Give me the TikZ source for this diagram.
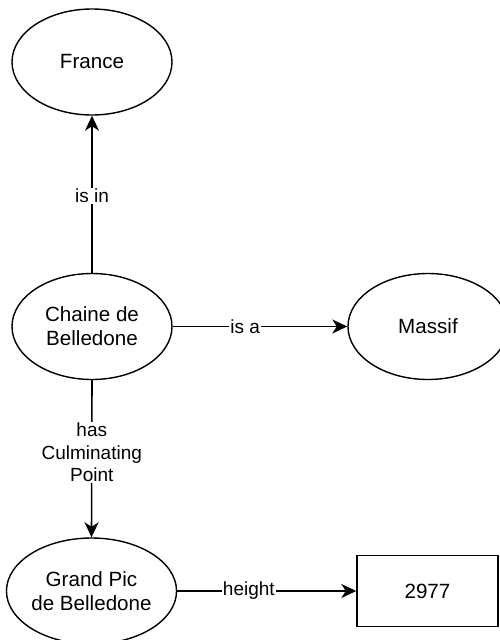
\documentclass[tikz,border=0pt]{standalone}
\usepackage{fontspec}
\setmainfont{Liberation Sans}
\usetikzlibrary{shapes.geometric,arrows.meta}
\tikzset{
  conc/.style={ellipse,draw,line width=1.4pt,minimum width=160pt,minimum height=106pt,inner sep=0pt,align=center,font=\fontsize{20.6}{24}\selectfont},
  valbox/.style={rectangle,draw,line width=1.4pt,minimum width=141pt,minimum height=71pt,inner sep=0pt,align=center,font=\fontsize{20.6}{24}\selectfont},
  rel/.style={line width=1.6pt,-{Stealth[length=15pt,width=14pt,inset=4.5pt]}},
  lbl/.style={fill=white,inner sep=1pt,align=center,font=\fontsize{19}{22.5}\selectfont}
}
\begin{document}
\begin{tikzpicture}[x=1pt,y=-1pt]
\useasboundingbox (0,0) rectangle (499,640);
\node[conc] (france) at (92,62) {France};
\node[conc] (chaine) at (92,326.5) {Chaine de\\Belledone};
\node[conc] (massif) at (428,326.5) {Massif};
\node[conc] (grand) at (91.5,591) {Grand Pic\\de Belledone};
\node[valbox] (val) at (427.5,591) {2977};
\draw[rel] (chaine.north) -- node[lbl,pos=0.49] {is in} (france.south);
\draw[rel] (chaine.east) -- node[lbl,pos=0.415] {is a} (massif.west);
\draw[rel] (chaine.south) -- node[lbl,pos=0.46] {has\\Culminating\\Point} (grand.north);
\draw[rel] (grand.east) -- node[lbl,pos=0.40] {height} (val.west);
\end{tikzpicture}
\end{document}
